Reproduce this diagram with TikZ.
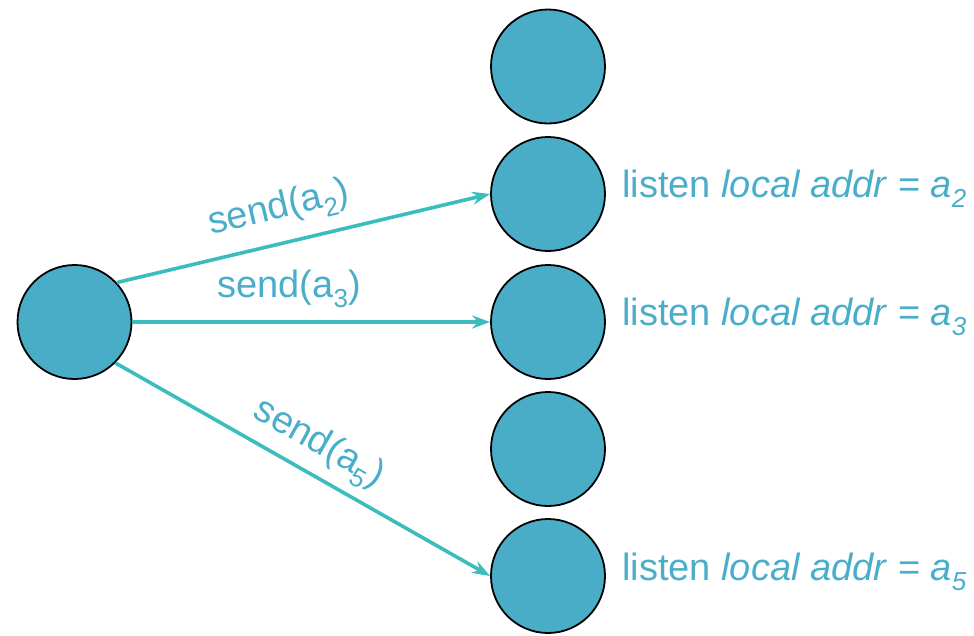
\documentclass[tikz,border=0pt]{standalone}
\usepackage{fontspec}
\setmainfont{Liberation Sans}
\usetikzlibrary{arrows.meta}
\definecolor{dotfill}{HTML}{4AADC7}
\definecolor{arrowcol}{HTML}{3BBDBD}
\definecolor{txtcol}{HTML}{4AAECB}
\newcommand\mysub[1]{\raisebox{-10pt}{\fontsize{26}{26}\selectfont #1}}
\begin{document}
\begin{tikzpicture}[x=1pt,y=-1pt,
  dot/.style={circle,draw=black,line width=1.8pt,fill=dotfill,minimum size=114pt,inner sep=0pt},
  sendarrow/.style={draw=arrowcol,line width=3.6pt,-{Stealth[length=18pt,width=13pt,inset=6pt]}},
  lbl/.style={text=txtcol,font=\fontsize{38}{40}\selectfont,inner sep=0pt}]
\useasboundingbox (0,0) rectangle (974,635);
\node[dot] (L) at (74.5,322) {};
\node[dot] (R1) at (548,66.5) {};
\node[dot] (R2) at (548,194) {};
\node[dot] (R3) at (548,322) {};
\node[dot] (R4) at (548,449) {};
\node[dot] (R5) at (548,576) {};
\draw[sendarrow] (L.43) -- (R2.west);
\draw[sendarrow] (L.east) -- (R3.west);
\draw[sendarrow] (L.-45) -- (R5.west);
\node[lbl,anchor=base,rotate=13.3] (s2) at (281,218) {send(a\mysub{2})};
\node[lbl,anchor=base] (s3) at (289,297) {send(a\mysub{3})};
\node[lbl,anchor=base,rotate=-29.5] (s5) at (314,452) {send(a\mysub{5})};
\node[lbl,anchor=base west] (t2) at (622,197) {listen \textit{local addr} = \textit{a\mysub{2}}};
\node[lbl,anchor=base west] (t3) at (622,325) {listen \textit{local addr} = \textit{a\mysub{3}}};
\node[lbl,anchor=base west] (t5) at (622,580) {listen \textit{local addr} = \textit{a\mysub{5}}};
\end{tikzpicture}
\end{document}
